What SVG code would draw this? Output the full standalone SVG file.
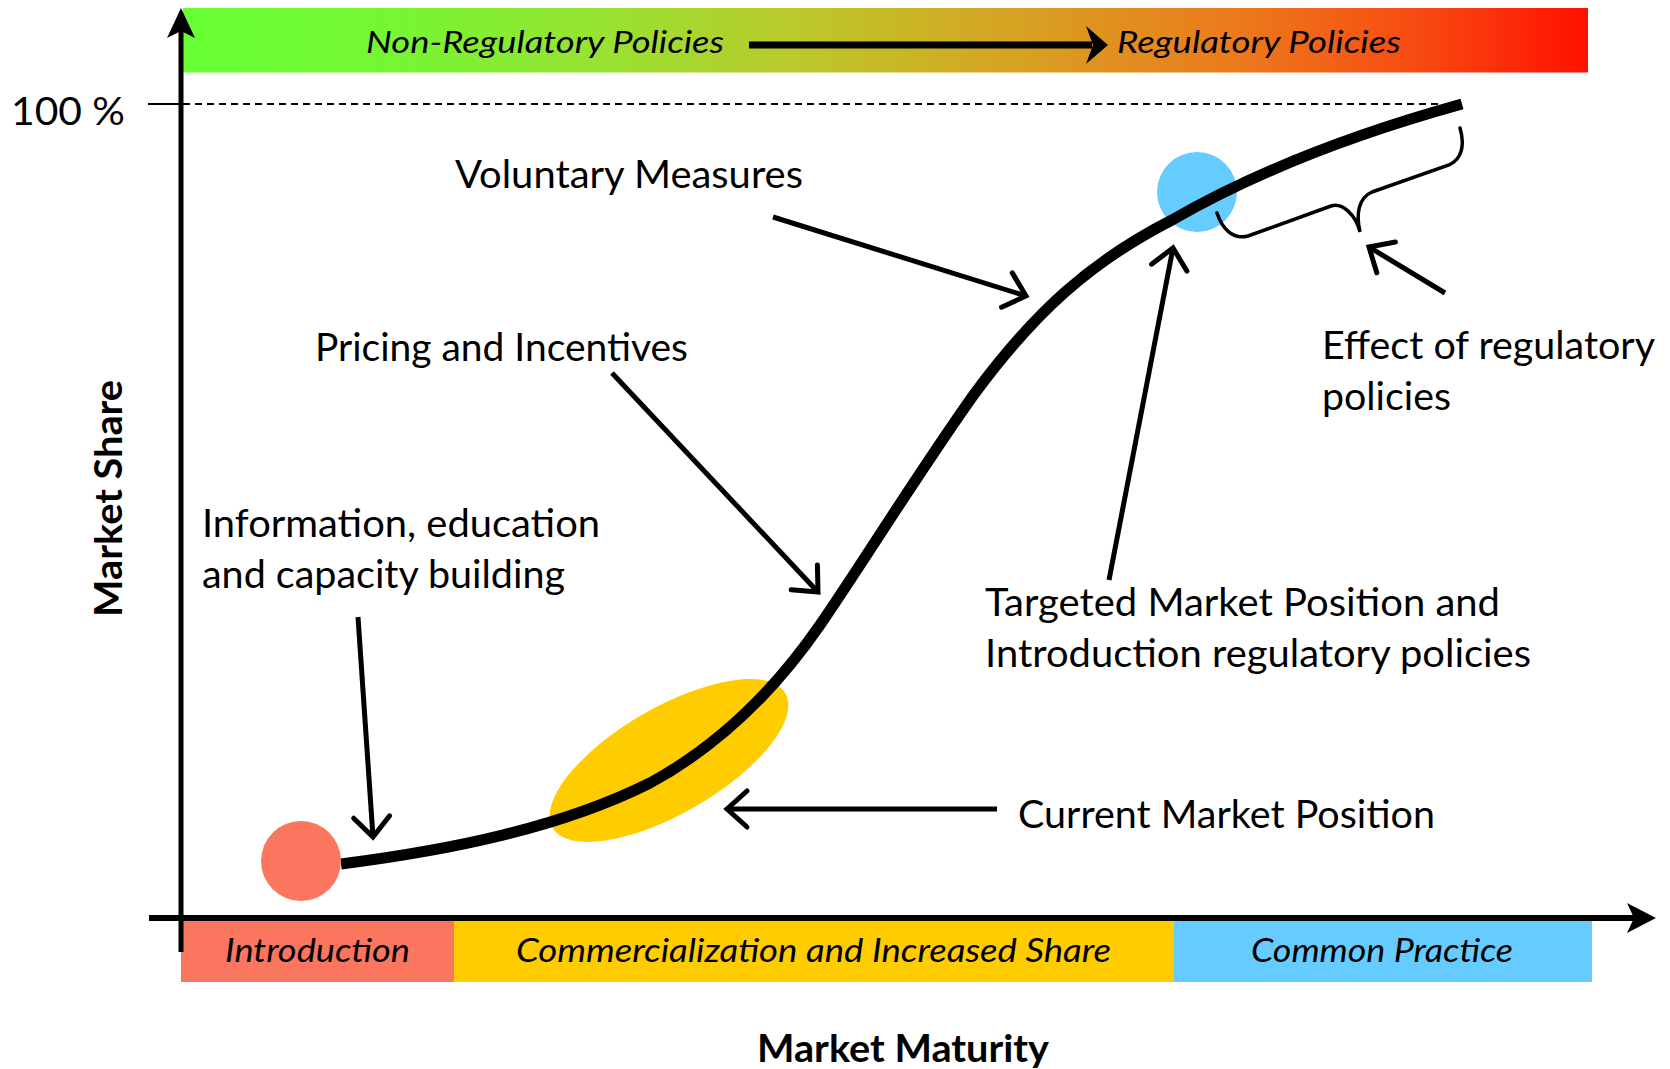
<svg xmlns="http://www.w3.org/2000/svg" width="1670" height="1069" viewBox="0 0 1670 1069">
<defs>
<linearGradient id="policyGrad" x1="0" y1="0" x2="1" y2="0">
<stop offset="0" stop-color="#66ff33"/>
<stop offset="0.16" stop-color="#78f532"/>
<stop offset="0.3" stop-color="#98e232"/>
<stop offset="0.44" stop-color="#bcc82a"/>
<stop offset="0.6" stop-color="#d8a022"/>
<stop offset="0.75" stop-color="#ec7a1c"/>
<stop offset="0.88" stop-color="#f84a12"/>
<stop offset="1" stop-color="#ff1000"/>
</linearGradient>
<marker id="vhead" markerUnits="userSpaceOnUse" viewBox="-30 -25 36 50" refX="0" refY="0" markerWidth="36" markerHeight="50" orient="auto">
<path d="M-20,-18 L0,0 L-20,18" fill="none" stroke="#000" stroke-width="5" stroke-linecap="round" stroke-linejoin="miter"/>
</marker>
<style>
.lbl{font-family:Lato,'Open Sans','Liberation Sans',sans-serif;font-size:38px;fill:#000}
.ital{font-family:Lato,'Open Sans','Liberation Sans',sans-serif;font-style:italic;fill:#000}
.bold{font-family:Lato,'Open Sans','Liberation Sans',sans-serif;font-weight:bold;font-size:38px;fill:#000}
.conn{fill:none;stroke:#000;stroke-width:5;marker-end:url(#vhead)}
.head{fill:#000;stroke:none}
</style>
</defs>
<rect width="1670" height="1069" fill="#fff"/>

<g id="policy-bar">
<rect x="183" y="8" width="1405" height="64.5" fill="url(#policyGrad)"/>
<text class="ital" x="366" y="53" font-size="31" textLength="358" lengthAdjust="spacingAndGlyphs">Non-Regulatory Policies</text>
<line x1="749" y1="45" x2="1092" y2="45" stroke="#000" stroke-width="7"/>
<path class="head" d="M1108,45 L1086,26 L1093,45 L1086,64 Z"/>
<text class="ital" x="1117" y="53" font-size="31" textLength="284" lengthAdjust="spacingAndGlyphs">Regulatory Policies</text>
</g>

<g id="phase-bars">
<rect x="181" y="921" width="273" height="61" fill="#fa765e"/>
<rect x="454" y="921" width="720" height="61" fill="#ffcc00"/>
<rect x="1174" y="921" width="418" height="61" fill="#66ccff"/>
<text class="ital" x="225" y="962" font-size="33" textLength="185" lengthAdjust="spacingAndGlyphs">Introduction</text>
<text class="ital" x="516" y="962" font-size="33" textLength="595" lengthAdjust="spacingAndGlyphs">Commercialization and Increased Share</text>
<text class="ital" x="1251" y="962" font-size="33" textLength="262" lengthAdjust="spacingAndGlyphs">Common Practice</text>
</g>

<g id="axes">
<line x1="148" y1="104" x2="181" y2="104" stroke="#000" stroke-width="2"/>
<line x1="183" y1="104" x2="1440" y2="104" stroke="#000" stroke-width="2" stroke-dasharray="7 5"/>
<line x1="181" y1="952" x2="181" y2="28" stroke="#000" stroke-width="5"/>
<path class="head" d="M181,8 L195,38 L181,31 L167,38 Z"/>
<line x1="149" y1="918" x2="1636" y2="918" stroke="#000" stroke-width="6"/>
<path class="head" d="M1656,918 L1627,903 L1634,918 L1627,933 Z"/>
<text class="lbl" x="11" y="125" font-size="39" textLength="114" lengthAdjust="spacingAndGlyphs">100 %</text>
<text class="bold" x="903" y="1062" text-anchor="middle" textLength="292" lengthAdjust="spacingAndGlyphs">Market Maturity</text>
<text class="bold" transform="translate(122,498.5) rotate(-90)" text-anchor="middle" textLength="237" lengthAdjust="spacingAndGlyphs">Market Share</text>
</g>

<g id="current-position">
<ellipse cx="669" cy="760.5" rx="134.5" ry="53" transform="rotate(-30 669 760.5)" fill="#ffcc00"/>
</g>
<g id="target-position">
<circle cx="1197" cy="192" r="40" fill="#66ccff"/>
</g>

<g id="adoption-curve">
<path d="M341,864 C450,850 560,828 650,783 C720,745 775,690 820,625 C860,567 920,470 975,393 C1035,312 1090,262 1172,220 C1250,175 1350,135 1462,104" fill="none" stroke="#000" stroke-width="11"/>
</g>

<g id="start-position">
<circle cx="301" cy="861" r="40" fill="#fa765e"/>
</g>

<g id="brace">
<path d="M1217,213 C1222,228 1232,240 1248,236 L1331,206 C1342,202 1356,215 1360,232 C1356,215 1358,198 1372,192 L1449,165 C1462,159 1465,145 1460,128" fill="none" stroke="#000" stroke-width="3.5" stroke-linecap="round"/>
</g>

<g id="label-voluntary">
<text class="lbl" x="455" y="188" textLength="348" lengthAdjust="spacingAndGlyphs">Voluntary Measures</text>
</g>
<g id="label-pricing">
<text class="lbl" x="315" y="361" textLength="373" lengthAdjust="spacingAndGlyphs">Pricing and Incentives</text>
</g>
<g id="label-information">
<text class="lbl" x="202" y="537" textLength="398" lengthAdjust="spacingAndGlyphs">Information, education</text>
<text class="lbl" x="202" y="588" textLength="363" lengthAdjust="spacingAndGlyphs">and capacity building</text>
</g>
<g id="label-targeted">
<text class="lbl" x="985" y="616" textLength="515" lengthAdjust="spacingAndGlyphs">Targeted Market Position and</text>
<text class="lbl" x="985" y="667" textLength="546" lengthAdjust="spacingAndGlyphs">Introduction regulatory policies</text>
</g>
<g id="label-current">
<text class="lbl" x="1018" y="828" textLength="417" lengthAdjust="spacingAndGlyphs">Current Market Position</text>
</g>
<g id="label-effect">
<text class="lbl" x="1322" y="359" textLength="333" lengthAdjust="spacingAndGlyphs">Effect of regulatory</text>
<text class="lbl" x="1322" y="410" textLength="129" lengthAdjust="spacingAndGlyphs">policies</text>
</g>

<g id="connectors">
<line class="conn" x1="773" y1="217" x2="1026" y2="296"/>
<line class="conn" x1="612" y1="373" x2="818" y2="592"/>
<line class="conn" x1="358" y1="617" x2="373" y2="837"/>
<line class="conn" x1="1109" y1="580" x2="1173" y2="248"/>
<line class="conn" x1="997" y1="809" x2="727" y2="809"/>
<line class="conn" x1="1445" y1="293" x2="1369" y2="247"/>
</g>
</svg>
